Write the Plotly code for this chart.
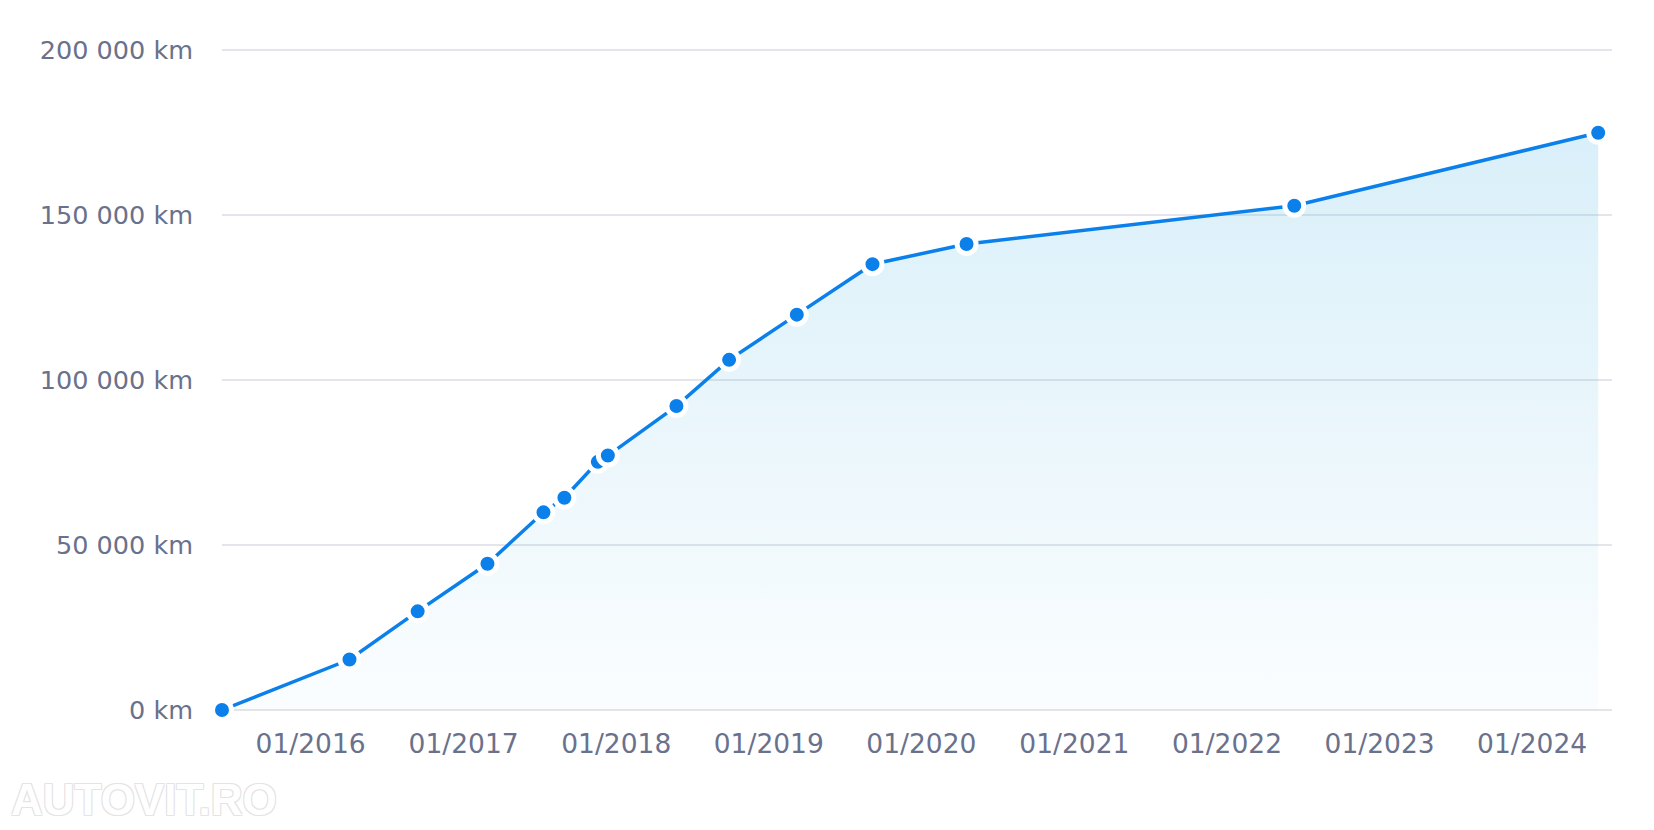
import plotly.graph_objects as go

# Data
dates = ["2015-06-03", "2016-04-03", "2016-09-13", "2017-02-27", "2017-07-11",
         "2017-08-30", "2017-11-18", "2017-12-12", "2018-05-25", "2018-09-28",
         "2019-03-09", "2019-09-06", "2020-04-18", "2022-06-11", "2024-06-07"]
km = [0, 15300, 29900, 44300, 59900, 64300, 75200, 77100, 92100, 106100,
      119800, 135100, 141200, 152800, 174900]

x_tick_vals = ["2016-01-01", "2017-01-01", "2018-01-01", "2019-01-01", "2020-01-01",
               "2021-01-01", "2022-01-01", "2023-01-01", "2024-01-01"]
x_tick_text = ["01/2016", "01/2017", "01/2018", "01/2019", "01/2020",
               "01/2021", "01/2022", "01/2023", "01/2024"]
y_tick_vals = [0, 50000, 100000, 150000, 200000]
y_tick_text = ["0 km", "50 000 km", "100 000 km", "150 000 km", "200 000 km"]

BLUE = "#0b80ea"
TEXT = "#6a718c"
GRID = "#e3e5ea"
FONT = "DejaVu Sans"

fig = go.Figure()
fig.add_trace(go.Scatter(
    x=dates, y=km,
    mode="lines+markers",
    line=dict(color=BLUE, width=3.5),
    marker=dict(color=BLUE, size=19, line=dict(color="white", width=5)),
    fill="tozeroy",
    fillgradient=dict(type="vertical", start=0, stop=175000,
                      colorscale=[[0, "rgba(103,191,231,0.03)"], [1, "rgba(103,191,231,0.25)"]]),
    cliponaxis=False,
    hoverinfo="x+y",
))

# edge gridlines (0 km and 200 000 km) drawn as shapes
for v in (y_tick_vals[0], y_tick_vals[-1]):
    fig.add_shape(type="line", xref="paper", x0=0, x1=1, yref="y", y0=v, y1=v,
                  line=dict(color=GRID, width=2), layer="below")

fig.update_layout(
    width=1654, height=830,
    margin=dict(l=222, r=42, t=49, b=119),
    paper_bgcolor="white", plot_bgcolor="white",
    showlegend=False,
    font=dict(family=FONT, size=25, color=TEXT),
    xaxis=dict(
        type="date",
        range=["2015-06-03", "2024-07-10"],
        tickvals=x_tick_vals, ticktext=x_tick_text,
        showgrid=False, zeroline=False, showline=False,
        ticks="", ticklabelstandoff=14,
        tickfont=dict(family=FONT, size=26.5, color=TEXT),
    ),
    yaxis=dict(
        range=[-300, 200300],
        tickvals=y_tick_vals, ticktext=y_tick_text,
        showgrid=True, gridcolor=GRID, gridwidth=2,
        zeroline=False, showline=False,
        ticks="", ticklabelstandoff=28,
        tickfont=dict(family=FONT, size=25.5, color=TEXT),
    ),
    annotations=[dict(
        text="<b>AUTOVIT.RO</b>", xref="paper", yref="paper",
        x=-213/1390, y=-115/662, xanchor="left", yanchor="bottom",
        showarrow=False,
        font=dict(family="Liberation Sans", size=44, color="white",
                  shadow="1px 1px 0 #e4e4e4, -1px -1px 0 #e4e4e4, 1px -1px 0 #e4e4e4, -1px 1px 0 #e4e4e4"),
    )],
)

fig.write_html("out.html", config={"displayModeBar": False},
               post_script="document.body.style.margin='0';")
